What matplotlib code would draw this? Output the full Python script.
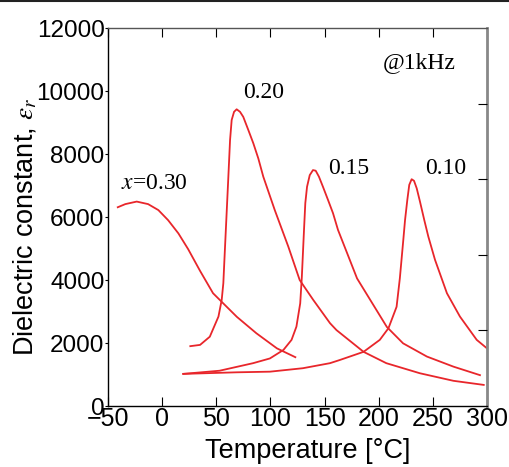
import matplotlib
matplotlib.use('Agg')
import matplotlib.pyplot as plt
from matplotlib.lines import Line2D

# values (temperature in degC, dielectric constant)
t_030 = [-41, -34, -23.5, -13, -3.5, 5.5, 15, 24, 35, 47, 69, 87, 106, 123]
e_030 = [6310, 6410, 6490, 6410, 6220, 5900, 5480, 4980, 4290, 3580, 2830, 2310, 1830, 1550]

t_020 = [26, 35, 44, 52, 55, 56.5, 57.5, 61, 62.7, 64.2, 66.4, 68.8, 71.9, 74.9,
         79.6, 84.2, 88.8, 93.4, 104, 116.5, 127, 139.5, 155, 161, 186, 207, 238, 269, 297]
e_020 = [1900, 1940, 2200, 2840, 3370, 3900, 4640, 7180, 8440, 9080, 9340, 9420, 9340, 9180,
         8760, 8340, 7860, 7280, 6220, 5060, 4000, 3370, 2630, 2410, 1720, 1360, 1040, 800, 670]

t_015 = [19.5, 53, 84, 99.5, 112, 119.5, 124, 127.5, 129, 131, 132.2, 133.8, 136.3,
         139.3, 141.8, 144.8, 148.5, 153.2, 157.8, 162.4, 180, 207.5, 222.5,
         244.5, 269, 293.5]
e_015 = [1020, 1120, 1360, 1510, 1780, 2100, 2520, 3260, 4100, 5590, 6440, 6960, 7330,
         7490, 7470, 7280, 6960, 6540, 6120, 5590, 4050, 2510, 1990,
         1570, 1250, 980]

t_010 = [19.5, 69, 99.5, 130, 155, 164, 186, 201, 209, 216.5, 219.5, 222.7, 224.3,
         226.4, 228.2, 230.4, 232.6, 235.1, 238.1, 242.1, 245.8, 252, 263, 275, 290.5, 300]
e_010 = [1020, 1070, 1090, 1200, 1360, 1460, 1720, 2100, 2470, 3150, 4050, 5270, 5900,
         6540, 7020, 7200, 7150, 6910, 6490, 5900, 5380, 4640, 3580, 2840, 2100, 1830]

x_ticks = [-50, 0, 50, 100, 150, 200, 250, 300]
y_ticks = [0, 2000, 4000, 6000, 8000, 10000, 12000]

# curve labels: (text, temperature, value)
labels = [
    (r'$x$=0.30', -38, 6890),
    ('0.20', 74.7, 9780),
    ('0.15', 153, 7370),
    ('0.10', 242.7, 7370),
    ('@1kHz', 204, 10730),
]

red = '#e8262b'
sans = ['Liberation Sans', 'DejaVu Sans']
plt.rcParams['mathtext.fontset'] = 'stix'

fig = plt.figure(figsize=(5.10, 4.67), dpi=100)
ax = fig.add_axes([0.2118, 0.1306, 0.7431, 0.8094])

for t, e in [(t_030, e_030), (t_020, e_020), (t_015, e_015), (t_010, e_010)]:
    ax.plot(t, e, color=red, lw=1.3, solid_joinstyle='round')

ax.set_xlim(-50, 300)
ax.set_ylim(0, 12000)
ax.set_xticks(x_ticks)
ax.set_yticks(y_ticks)
ax.set_xticklabels([str(v).replace('-', '\u2212') for v in x_ticks], family=sans, fontsize=18)
ax.set_yticklabels([str(v) for v in y_ticks], family=sans, fontsize=17.5)
ax.tick_params(axis='x', which='major', direction='in', length=6.5, width=0.8,
               top=True, pad=1)
ax.tick_params(axis='y', which='major', direction='out', length=2, width=0.8, pad=0.5)

ax.spines['left'].set_linewidth(1.0)
ax.spines['bottom'].set_linewidth(1.0)
ax.spines['top'].set_color('#555555')
ax.spines['top'].set_linewidth(1.0)
ax.spines['right'].set_color('#888888')
ax.spines['right'].set_linewidth(2.0)

# right side ticks without labels, 5 divisions
ax2 = ax.twinx()
ax2.set_ylim(0, 5)
ax2.set_yticks([1, 2, 3, 4])
ax2.set_yticklabels([])
ax2.tick_params(axis='y', direction='in', length=6.5, width=0.8)
for s in ax2.spines.values():
    s.set_visible(False)

ax.set_xlabel('Temperature [°C]', family=sans, fontsize=19.5)
ax.set_ylabel(r'Dielectric constant, $\varepsilon_r$', family=sans, fontsize=19.5)
ax.xaxis.set_label_coords(0.528, -0.085)
ax.yaxis.set_label_coords(-0.18, 0.475)

for text, tx, ty in labels:
    ax.text(tx, ty, text, family='Liberation Serif', fontsize=17, ha='left', va='baseline')

# thin border line along the top of the image
fig.add_artist(Line2D([0, 1], [0.997, 0.997], color='#222222', lw=1.5,
                      transform=fig.transFigure))

plt.savefig('out.png', dpi=100)
